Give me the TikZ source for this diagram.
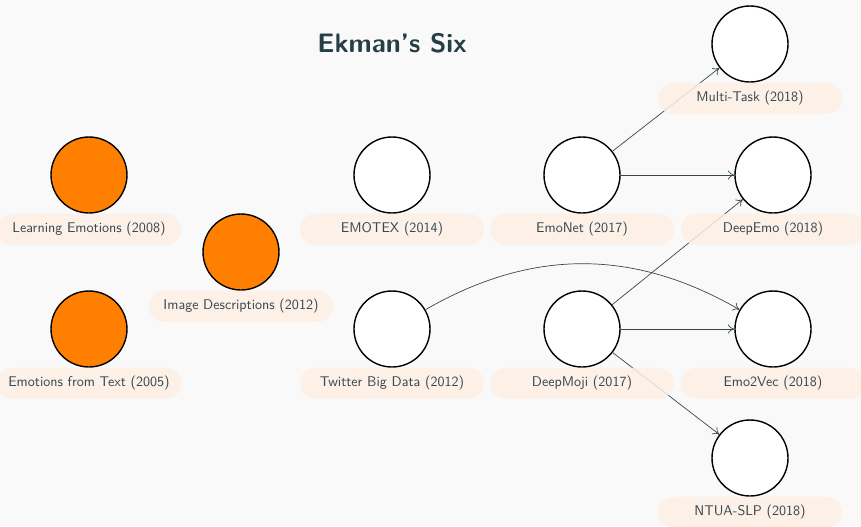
\documentclass[tikz,border=0pt]{standalone}
\usepackage{xcolor}
\usepackage{tikz}
\usetikzlibrary{arrows.meta,positioning}
\definecolor{ink}{HTML}{37474F}
\definecolor{heading}{HTML}{263F44}
\definecolor{peach}{HTML}{FDEFE4}
\definecolor{early}{HTML}{FF8000}
\definecolor{canvas}{HTML}{F9F9F9}
\begin{document}
\begin{tikzpicture}[
  paper/.style={circle,draw=black,line width=1pt,fill=white,minimum size=1.9cm,inner sep=0pt},
  old/.style={paper,fill=early},
  tag/.style={rectangle,rounded corners=0.38cm,fill=peach,fill opacity=0.85,text opacity=1,text=ink,
    minimum width=4.6cm,minimum height=0.77cm,font=\sffamily\normalsize,inner sep=0pt},
  arr/.style={-{To[length=1.6mm,width=2.2mm]},ink,line width=0.5pt}]
\useasboundingbox (0,0) rectangle (21.525,-13.15);
\fill[canvas] (0,0) rectangle (21.525,-13.15);
\node[font=\sffamily\bfseries\fontsize{19}{23}\selectfont,text=heading] (title) at (9.8,-1.075) {Ekman's Six};
\node[old] (le) at (2.225,-4.375) {};
\node[old] (et) at (2.225,-8.225) {};
\node[old] (id) at (6.025,-6.3) {};
\node[paper] (emotex) at (9.8,-4.375) {};
\node[paper] (twitter) at (9.8,-8.225) {};
\node[paper] (emonet) at (14.55,-4.375) {};
\node[paper] (deepmoji) at (14.55,-8.225) {};
\node[paper] (multitask) at (18.75,-1.1) {};
\node[paper] (deepemo) at (19.325,-4.375) {};
\node[paper] (emo2vec) at (19.325,-8.225) {};
\node[paper] (ntua) at (18.75,-11.45) {};
\draw[arr] (emonet)--(multitask);
\draw[arr] (emonet)--(deepemo);
\draw[arr] (deepmoji)--(deepemo);
\draw[arr] (deepmoji)--(emo2vec);
\draw[arr] (deepmoji)--(ntua);
\draw[arr] (twitter) to[bend left=30] (emo2vec);
\node[tag,below=0pt of le] (leL) {Learning Emotions (2008)};
\node[tag,below=0pt of et] (etL) {Emotions from Text (2005)};
\node[tag,below=0pt of id] (idL) {Image Descriptions (2012)};
\node[tag,below=0pt of emotex] (emotexL) {EMOTEX (2014)};
\node[tag,below=0pt of twitter] (twitterL) {Twitter Big Data (2012)};
\node[tag,below=0pt of emonet] (emonetL) {EmoNet (2017)};
\node[tag,below=0pt of deepmoji] (deepmojiL) {DeepMoji (2017)};
\node[tag,below=0pt of multitask] (multitaskL) {Multi-Task (2018)};
\node[tag,below=0pt of deepemo] (deepemoL) {DeepEmo (2018)};
\node[tag,below=0pt of emo2vec] (emo2vecL) {Emo2Vec (2018)};
\node[tag,below=0pt of ntua] (ntuaL) {NTUA-SLP (2018)};
\end{tikzpicture}
\end{document}
